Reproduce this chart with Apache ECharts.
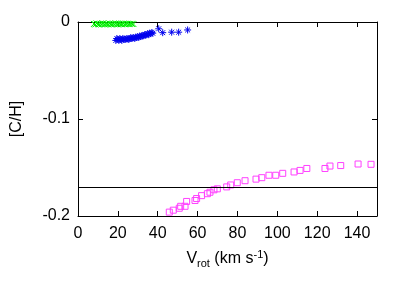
<!DOCTYPE html>
<html>
<head>
<meta charset="utf-8">
<script src="https://cdn.jsdelivr.net/npm/echarts@6/dist/echarts.min.js"></script>
<style>
html,body{margin:0;padding:0;background:#fff;}
#chart{width:407px;height:284px;}
</style>
</head>
<body>
<div id="chart"></div>
<script>
// ---- data ----
const xTicks = [0, 20, 40, 60, 80, 100, 120, 140];
const yTicks = [0, -0.1, -0.2];
const refLevel = -0.17;

const greenX = [8, 8.7, 9.3, 10, 10.6, 11.2, 11.9, 12.5, 13.2, 13.8, 14.5, 15.1, 15.8, 16.4, 17, 17.7, 18.3, 19, 19.6, 20.3, 20.9, 21.6, 22.2, 22.9, 23.5, 24.2, 24.8, 25.5, 26.2, 27, 27.8];
const greenY = [-0.002, -0.0025, -0.0015, -0.002, -0.0025, -0.0018, -0.0022, -0.0015, -0.0025, -0.002, -0.0018, -0.0024, -0.0016, -0.002, -0.0025, -0.0018, -0.0022, -0.0015, -0.0024, -0.002, -0.0017, -0.0023, -0.002, -0.0016, -0.0024, -0.002, -0.0018, -0.0022, -0.002, -0.0019, -0.0021];

const blueX = [19, 19.5, 20, 20.5, 21, 21.5, 22, 22.5, 23, 23.5, 24, 24.5, 25, 25.5, 26, 26.5, 27, 27.5, 28, 28.5, 29, 29.5, 30, 30.5, 31, 31.5, 32, 32.5, 33, 33.5, 34, 34.5, 35, 35.5, 36, 36.5, 37, 37.5, 40.5, 42.5, 47, 50.5, 55];
const blueY = [-0.019, -0.017, -0.018, -0.019, -0.017, -0.018, -0.019, -0.017, -0.018, -0.0175, -0.018, -0.017, -0.0175, -0.018, -0.017, -0.016, -0.017, -0.0165, -0.016, -0.017, -0.0155, -0.016, -0.015, -0.016, -0.0145, -0.015, -0.014, -0.0145, -0.014, -0.013, -0.0135, -0.013, -0.012, -0.013, -0.0115, -0.012, -0.011, -0.0115, -0.007, -0.011, -0.0105, -0.0105, -0.0082];

const magX = [45.8, 47.8, 50.8, 51.5, 53.7, 54.5, 58.7, 59.5, 62, 64.9, 66.2, 68.2, 69.9, 74.6, 76.6, 79.9, 83.8, 89.3, 92.2, 95.8, 99.2, 102.7, 108.4, 111.4, 114.8, 123.9, 126.4, 131.8, 140.5, 147];
const magY = [-0.196, -0.194, -0.192, -0.19, -0.19, -0.185, -0.184, -0.182, -0.179, -0.177, -0.1755, -0.173, -0.172, -0.17, -0.168, -0.1657, -0.1636, -0.162, -0.1605, -0.158, -0.158, -0.156, -0.1546, -0.153, -0.151, -0.151, -0.1485, -0.148, -0.1464, -0.1467];

const zip = (a, b) => a.map((v, i) => [v, b[i]]);

const FONT = 'Liberation Sans';
const FS = 16;
const chart = echarts.init(document.getElementById('chart'), null, {renderer: 'canvas'});

const xBase = {
  type: 'value', min: 0, max: 150, interval: 20,
  axisLine: {show: true, onZero: false, lineStyle: {color: '#000', width: 1}},
  axisTick: {show: true, inside: true, length: 5, lineStyle: {color: '#000'}},
  splitLine: {show: false}
};
const yBase = {
  type: 'value', min: -0.2, max: 0, interval: 0.1,
  axisLine: {show: true, onZero: false, lineStyle: {color: '#000', width: 1}},
  axisTick: {show: true, inside: true, length: 5, lineStyle: {color: '#000'}},
  splitLine: {show: false}
};

const option = {
  animation: false,
  backgroundColor: '#fff',
  grid: {left: 78, right: 30, top: 22, bottom: 68},
  xAxis: [
    Object.assign({}, xBase, {
      position: 'bottom',
      axisLabel: {show: true, color: '#000', fontFamily: FONT, fontSize: FS, margin: 10, showMaxLabel: false,
        formatter: v => (xTicks.indexOf(v) >= 0 ? String(v) : '')},
      name: '{a|V}{s|rot}{a| (km s}{p|-1}{a|)}',
      nameLocation: 'middle', nameGap: 33,
      nameTextStyle: {
        color: '#000', fontFamily: FONT, fontSize: FS,
        rich: {
          a: {fontFamily: FONT, fontSize: FS, color: '#000', lineHeight: 20, verticalAlign: 'middle'},
          s: {fontFamily: FONT, fontSize: 11, color: '#000', verticalAlign: 'bottom', lineHeight: 20, padding: [8, 0, 0, 0]},
          p: {fontFamily: FONT, fontSize: 11, color: '#000', verticalAlign: 'top', lineHeight: 20, padding: [0, 0, 8, 0]}
        }
      }
    }),
    Object.assign({}, xBase, {position: 'top', axisLabel: {show: false}})
  ],
  yAxis: [
    Object.assign({}, yBase, {
      position: 'left',
      axisLabel: {show: true, color: '#000', fontFamily: FONT, fontSize: FS, margin: 8,
        formatter: v => {
          const r = Math.round(v * 10) / 10;
          if (yTicks.indexOf(r) < 0) return '';
          return r === 0 ? '0' : r.toFixed(1);
        }},
      name: '[C/H]', nameLocation: 'middle', nameGap: 53, nameRotate: 90,
      nameTextStyle: {color: '#000', fontFamily: FONT, fontSize: FS}
    }),
    Object.assign({}, yBase, {position: 'right', axisLabel: {show: false}})
  ],
  series: [
    {
      type: 'line', xAxisIndex: 0, yAxisIndex: 0,
      data: [], silent: true, symbol: 'none',
      markLine: {
        silent: true, symbol: 'none', label: {show: false},
        lineStyle: {color: '#000', width: 1, type: 'solid'},
        data: [{yAxis: refLevel}]
      }
    },
    {
      type: 'scatter', data: zip(greenX, greenY),
      symbol: 'path://M0,0L10,10M10,0L0,10', symbolSize: 6,
      itemStyle: {color: 'none', borderColor: '#00ee00', borderWidth: 1, opacity: 1}
    },
    {
      type: 'scatter', data: zip(blueX, blueY),
      symbol: 'path://M0,5L10,5M5,0L5,10M1.5,1.5L8.5,8.5M8.5,1.5L1.5,8.5', symbolSize: 7,
      itemStyle: {color: 'none', borderColor: '#0000ee', borderWidth: 1, opacity: 1}
    },
    {
      type: 'scatter', data: zip(magX, magY),
      symbol: 'rect', symbolSize: 6,
      itemStyle: {color: 'rgba(255,255,255,0)', borderColor: '#ff40ff', borderWidth: 1, opacity: 1}
    }
  ]
};
chart.setOption(option);
</script>
</body>
</html>
